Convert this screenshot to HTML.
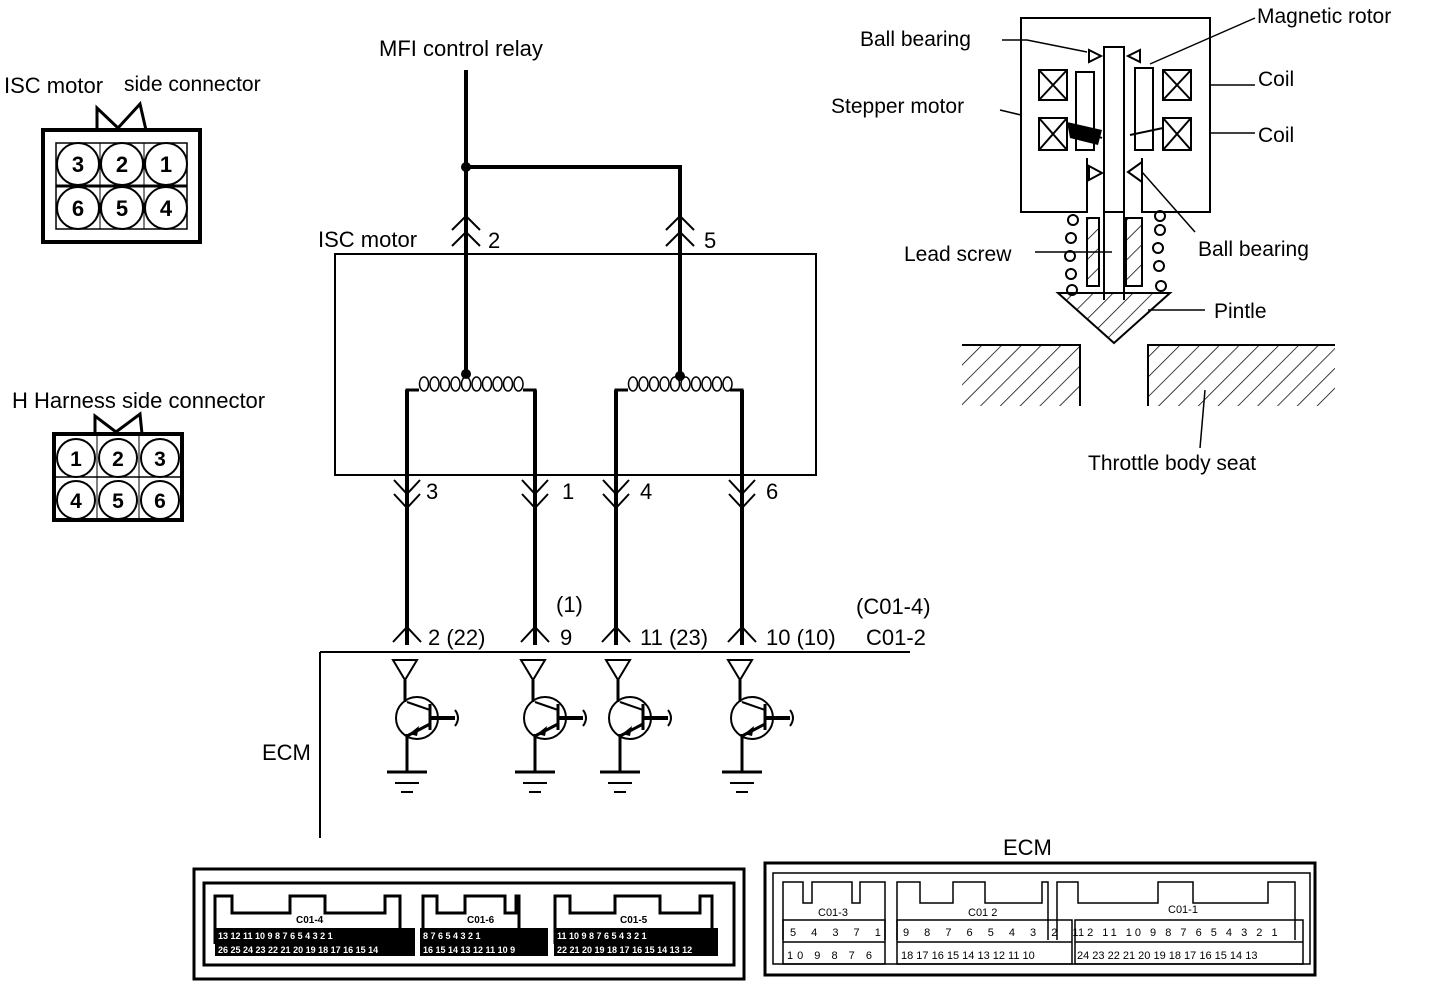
<!DOCTYPE html>
<html><head><meta charset="utf-8"><style>
body{margin:0;background:#fff}
svg{display:block}
text{font-family:"Liberation Sans",Arial,sans-serif;fill:#000}
</style></head><body>
<svg width="1440" height="988" viewBox="0 0 1440 988" xmlns="http://www.w3.org/2000/svg">
<defs>
<pattern id="h" width="14" height="14" patternUnits="userSpaceOnUse" patternTransform="rotate(45)"><line x1="0" y1="0" x2="0" y2="14" stroke="#000" stroke-width="1.5"/></pattern>
<g id="tr">
 <path d="M-12,-52 L12,-52 L0,-32 Z" fill="none" stroke="#000" stroke-width="2"/>
 <line x1="0" y1="-32" x2="0" y2="-10" stroke="#000" stroke-width="3"/>
 <circle cx="12" cy="6" r="21" fill="none" stroke="#000" stroke-width="2"/>
 <line x1="2" y1="-10" x2="25" y2="-2" stroke="#000" stroke-width="2"/>
 <line x1="25" y1="-8" x2="25" y2="18" stroke="#000" stroke-width="3"/>
 <line x1="25" y1="6" x2="50" y2="6" stroke="#000" stroke-width="4"/>
 <path d="M50,-2 q6,8 0,16" fill="none" stroke="#000" stroke-width="2"/>
 <line x1="25" y1="12" x2="2" y2="24" stroke="#000" stroke-width="3"/>
 <path d="M4,22 L14,14 L12,24 Z" fill="#000"/>
 <line x1="2" y1="22" x2="2" y2="60" stroke="#000" stroke-width="3"/>
 <line x1="-18" y1="60" x2="22" y2="60" stroke="#000" stroke-width="3"/>
 <line x1="-10" y1="71" x2="14" y2="71" stroke="#000" stroke-width="2"/>
 <line x1="-4" y1="80" x2="8" y2="80" stroke="#000" stroke-width="2"/>
</g>
<g id="vv" fill="none" stroke="#000" stroke-width="2">
 <path d="M-13,-8 L0,6 L13,-8"/><path d="M-13,6 L0,20 L13,6"/>
</g>
<g id="aa" fill="none" stroke="#000" stroke-width="2">
 <path d="M-14,12 L0,-2 L14,12"/><path d="M-14,28 L0,14 L14,28"/>
</g>
<g id="loops" fill="none" stroke="#000" stroke-width="1.5">
 <ellipse cx="5" cy="0" rx="4.5" ry="7"/><ellipse cx="15.5" cy="0" rx="4.5" ry="7"/><ellipse cx="26" cy="0" rx="4.5" ry="7"/><ellipse cx="36.5" cy="0" rx="4.5" ry="7"/><ellipse cx="47" cy="0" rx="4.5" ry="7"/><ellipse cx="57.5" cy="0" rx="4.5" ry="7"/><ellipse cx="68" cy="0" rx="4.5" ry="7"/><ellipse cx="78.5" cy="0" rx="4.5" ry="7"/><ellipse cx="89" cy="0" rx="4.5" ry="7"/><ellipse cx="99.5" cy="0" rx="4.5" ry="7"/>
</g>
</defs>

<!-- Left connectors -->
<text x="4" y="93" font-size="22">ISC motor</text><text x="124" y="91" font-size="21">side connector</text>
<path d="M97,130 V108 L118,128 L140,104 L146,130" fill="none" stroke="#000" stroke-width="3"/>
<rect x="43" y="130" width="157" height="112" fill="none" stroke="#000" stroke-width="4"/>
<rect x="56" y="143" width="131" height="86" fill="none" stroke="#000" stroke-width="1.5"/>
<line x1="56" y1="186" x2="187" y2="186" stroke="#000" stroke-width="3"/>
<line x1="100" y1="143" x2="100" y2="229" stroke="#000" stroke-width="1"/><line x1="144" y1="143" x2="144" y2="229" stroke="#000" stroke-width="1"/>
<g fill="none" stroke="#000" stroke-width="2">
<circle cx="78" cy="164" r="21"/><circle cx="122" cy="164" r="21"/><circle cx="166" cy="164" r="21"/>
<circle cx="78" cy="208" r="21"/><circle cx="122" cy="208" r="21"/><circle cx="166" cy="208" r="21"/>
</g>
<g font-size="22" font-weight="bold" text-anchor="middle">
<text x="78" y="172">3</text><text x="122" y="172">2</text><text x="166" y="172">1</text>
<text x="78" y="216">6</text><text x="122" y="216">5</text><text x="166" y="216">4</text>
</g>

<text x="12" y="408" font-size="22">H Harness side connector</text>
<path d="M95,434 V416 L116,432 L140,414 L142,434" fill="none" stroke="#000" stroke-width="3"/>
<rect x="54" y="434" width="128" height="86" fill="none" stroke="#000" stroke-width="4"/>
<line x1="54" y1="477" x2="182" y2="477" stroke="#000" stroke-width="1.5"/>
<line x1="97" y1="434" x2="97" y2="520" stroke="#000" stroke-width="1"/><line x1="139" y1="434" x2="139" y2="520" stroke="#000" stroke-width="1"/>
<g fill="none" stroke="#000" stroke-width="2">
<circle cx="76" cy="458" r="19"/><circle cx="118" cy="458" r="19"/><circle cx="160" cy="458" r="19"/>
<circle cx="76" cy="500" r="19"/><circle cx="118" cy="500" r="19"/><circle cx="160" cy="500" r="19"/>
</g>
<g font-size="21" font-weight="bold" text-anchor="middle">
<text x="76" y="466">1</text><text x="118" y="466">2</text><text x="160" y="466">3</text>
<text x="76" y="508">4</text><text x="118" y="508">5</text><text x="160" y="508">6</text>
</g>

<!-- Main circuit -->
<text x="379" y="56" font-size="22">MFI control relay</text>
<g stroke="#000" stroke-width="4" fill="none">
<line x1="466" y1="70" x2="466" y2="376"/>
<path d="M466,167 H680 V378"/>
<line x1="407" y1="390" x2="407" y2="645"/>
<line x1="535" y1="390" x2="535" y2="645"/>
<line x1="616" y1="390" x2="616" y2="645"/>
<line x1="742" y1="390" x2="742" y2="645"/>
</g>
<circle cx="466" cy="167" r="5"/><circle cx="466" cy="374" r="5"/><circle cx="680" cy="376" r="5"/>
<rect x="335" y="254" width="481" height="221" fill="none" stroke="#000" stroke-width="2"/>
<use href="#aa" x="466" y="218"/><use href="#aa" x="680" y="218"/>
<text x="318" y="247" font-size="22">ISC motor</text>
<text x="488" y="248" font-size="22">2</text><text x="704" y="248" font-size="22">5</text>
<!-- coils -->
<g fill="none" stroke="#000" stroke-width="3">
<path d="M407,392 V390 H419 M523,390 H535 V392"/>
<path d="M616,392 V390 H628 M730,390 H742 V392"/>
</g>
<use href="#loops" x="419" y="384"/>
<use href="#loops" x="628" y="384"/>
<use href="#vv" x="407" y="488"/><use href="#vv" x="535" y="488"/><use href="#vv" x="616" y="488"/><use href="#vv" x="742" y="488"/>
<g font-size="22"><text x="426" y="499">3</text><text x="562" y="499">1</text><text x="640" y="499">4</text><text x="766" y="499">6</text></g>
<g fill="none" stroke="#000" stroke-width="2">
<path d="M393,642 L407,627 L421,642"/><path d="M521,642 L535,627 L549,642"/><path d="M602,642 L616,627 L630,642"/><path d="M728,642 L742,627 L756,642"/>
</g>
<g font-size="22">
<text x="428" y="645">2 (22)</text><text x="556" y="612">(1)</text><text x="560" y="645">9</text>
<text x="640" y="645">11 (23)</text><text x="766" y="645">10 (10)</text>
<text x="856" y="614">(C01-4)</text><text x="866" y="645">C01-2</text>
</g>
<line x1="320" y1="652" x2="910" y2="652" stroke="#000" stroke-width="2"/>
<line x1="320" y1="652" x2="320" y2="838" stroke="#000" stroke-width="2"/>
<text x="262" y="760" font-size="22">ECM</text>
<use href="#tr" x="405" y="712"/><use href="#tr" x="533" y="712"/><use href="#tr" x="618" y="712"/><use href="#tr" x="740" y="712"/>

<!-- Stepper motor -->
<g stroke="#000" fill="none" stroke-width="2">
<path d="M1087,158 V212 H1021 V18 H1210 V212 H1142 V158"/>
<rect x="1104" y="47" width="20" height="165" fill="#fff"/>
<line x1="1104" y1="212" x2="1104" y2="300"/><line x1="1124" y1="212" x2="1124" y2="300"/>
<rect x="1039" y="70" width="28" height="30"/><path d="M1039,70 L1067,100 M1067,70 L1039,100"/>
<rect x="1039" y="118" width="28" height="32"/><path d="M1039,118 L1067,150 M1067,118 L1039,150"/>
<rect x="1163" y="70" width="28" height="30"/><path d="M1163,70 L1191,100 M1191,70 L1163,100"/>
<rect x="1163" y="118" width="28" height="32"/><path d="M1163,118 L1191,150 M1191,118 L1163,150"/>
<rect x="1076" y="72" width="18" height="78"/><rect x="1135" y="68" width="18" height="82"/>
<path d="M1089,50 L1101,56 L1089,62 Z M1140,50 L1128,56 L1140,62 Z"/>
<path d="M1089,166 L1102,173 L1089,180 Z M1142,162 L1128,172 L1142,182 Z"/>
<path d="M1067,125 L1102,138 M1130,135 L1163,128"/>
<rect x="1087" y="218" width="12" height="68" fill="url(#h)"/><rect x="1126" y="218" width="16" height="68" fill="url(#h)"/>
<path d="M1058,293 H1170 L1114,343 Z" fill="url(#h)"/>
<path d="M962,345 H1080 V406 M1148,406 V345 H1335" />
<rect x="962" y="345" width="118" height="61" fill="url(#h)" stroke="none"/>
<rect x="1148" y="345" width="187" height="61" fill="url(#h)" stroke="none"/>
<circle cx="1073" cy="220" r="5"/><circle cx="1071" cy="238" r="5"/><circle cx="1070" cy="256" r="5"/><circle cx="1071" cy="274" r="5"/><circle cx="1072" cy="290" r="5"/>
<circle cx="1160" cy="216" r="5"/><circle cx="1160" cy="230" r="5"/><circle cx="1158" cy="248" r="5"/><circle cx="1159" cy="266" r="5"/><circle cx="1161" cy="286" r="5"/>
</g>
<g stroke="#000" stroke-width="1.5" fill="none">
<path d="M1002,40 L1027,40 L1087,52"/>
<path d="M1255,18 L1150,64"/>
<path d="M1210,85 H1255"/><path d="M1210,133 H1255"/>
<path d="M1000,110 L1021,115"/>
<path d="M1142,172 L1195,232"/>
<path d="M1035,252 H1112"/>
<path d="M1148,310 H1205"/>
<path d="M1205,390 L1200,448"/>
</g>
<path d="M1067,122 L1102,130 L1098,145 L1070,138 Z" fill="#000"/>
<g font-size="21">
<text x="860" y="46">Ball bearing</text>
<text x="1257" y="23">Magnetic rotor</text>
<text x="1258" y="86">Coil</text><text x="1258" y="142">Coil</text>
<text x="831" y="113">Stepper  motor</text>
<text x="1198" y="256">Ball  bearing</text>
<text x="904" y="261">Lead  screw</text>
<text x="1214" y="318">Pintle</text>
<text x="1088" y="470">Throttle body seat</text>
</g>

<!-- ECM connectors bottom left -->
<rect x="194" y="869" width="550" height="110" fill="none" stroke="#000" stroke-width="3"/>
<rect x="204" y="883" width="530" height="82" fill="none" stroke="#000" stroke-width="3"/>
<g stroke="#000" stroke-width="3" fill="none">
<path d="M215,944 V896 H232 V913 H290 V896 H325 V913 H385 V896 H400 V944"/>
<path d="M423,944 V896 H437 V913 H465 V896 H505 V913 H516 V896 H519 V944"/>
<path d="M555,944 V896 H570 V913 H615 V896 H660 V913 H700 V896 H712 V944"/>
</g>
<rect x="215" y="928" width="200" height="28" fill="#000"/>
<rect x="420" y="928" width="128" height="28" fill="#000"/>
<rect x="554" y="928" width="164" height="28" fill="#000"/>
<g font-size="9" font-weight="bold">
<text x="218" y="939" style="fill:#fff">13 12 11 10 9 8 7 6 5 4 3 2 1</text>
<text x="218" y="953" style="fill:#fff">26 25 24 23 22 21 20 19 18 17 16 15 14</text>
<text x="423" y="939" style="fill:#fff">8 7 6 5 4 3 2 1</text>
<text x="423" y="953" style="fill:#fff">16 15 14 13 12 11 10 9</text>
<text x="557" y="939" style="fill:#fff">11 10 9 8 7 6 5 4 3 2 1</text>
<text x="557" y="953" style="fill:#fff">22 21 20 19 18 17 16 15 14 13 12</text>
</g>
<g font-size="10" font-weight="bold"><text x="296" y="923">C01-4</text><text x="467" y="923">C01-6</text><text x="620" y="923">C01-5</text></g>

<!-- ECM right -->
<text x="1003" y="855" font-size="22">ECM</text>
<rect x="765" y="863" width="550" height="112" fill="none" stroke="#000" stroke-width="3"/>
<rect x="773" y="873" width="537" height="91" fill="none" stroke="#000" stroke-width="1.5"/>
<g stroke="#000" stroke-width="1.5" fill="none">
<path d="M783,940 V882 H803 V903 H812 V882 H852 V903 H860 V882 H885 V940"/>
<path d="M897,940 V882 H920 V903 H953 V882 H985 V903 H1042 V882 H1048 V940"/>
<path d="M1057,940 V882 H1078 V903 H1158 V882 H1193 V903 H1268 V882 H1295 V940"/>
<rect x="783" y="920" width="102" height="44"/><line x1="783" y1="942" x2="885" y2="942"/>
<rect x="897" y="920" width="175" height="44"/><line x1="897" y1="942" x2="1072" y2="942"/>
<rect x="1075" y="920" width="228" height="44"/><line x1="1075" y1="942" x2="1303" y2="942"/>
</g>
<g font-size="11">
<text x="790" y="936" letter-spacing="6">5 4 3 7 1</text><text x="787" y="959" letter-spacing="4">10 9 8 7 6</text>
<text x="903" y="936" letter-spacing="6">9 8 7 6 5 4 3 2 1</text><text x="901" y="959">18 17 16 15 14 13 12 11 10</text>
<text x="1078" y="936" letter-spacing="3">12 11 10 9 8 7 6 5 4 3 2 1</text><text x="1077" y="959">24 23 22 21 20 19 18 17 16 15 14 13</text>
<text x="818" y="916">C01-3</text><text x="968" y="916">C01 2</text><text x="1168" y="913">C01-1</text>
</g>
</svg>
</body></html>
